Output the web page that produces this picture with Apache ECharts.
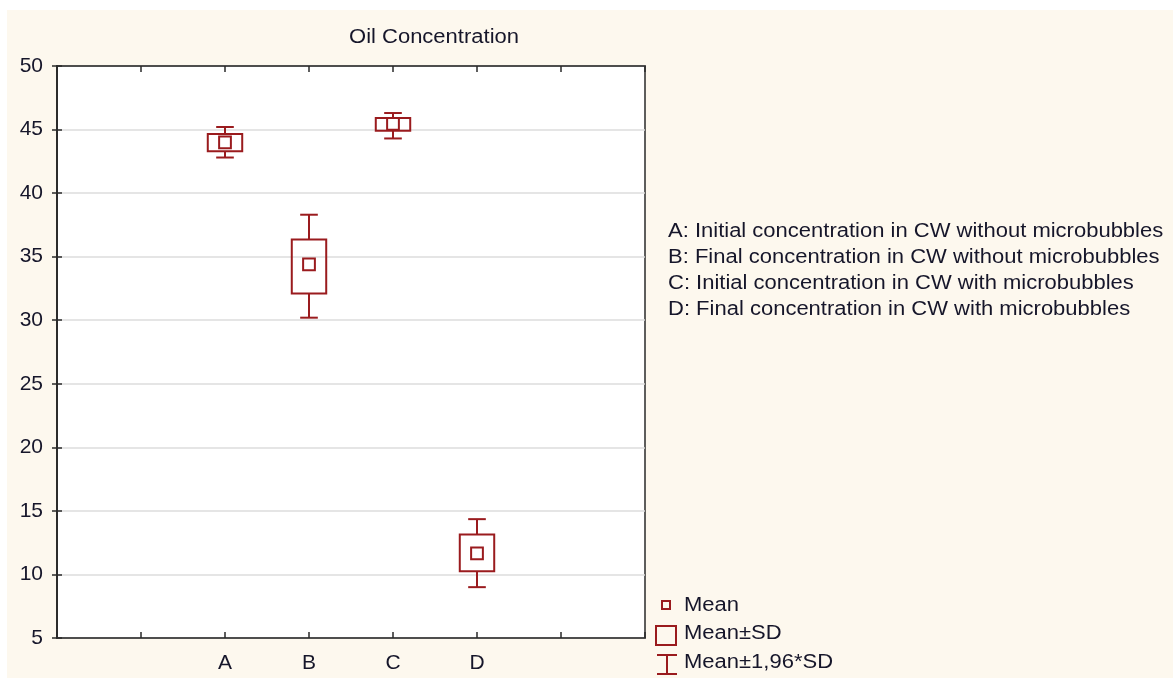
<!DOCTYPE html>
<html>
<head>
<meta charset="utf-8">
<script src="https://cdn.jsdelivr.net/npm/echarts@6/dist/echarts.min.js"></script>
<style>
html,body{margin:0;padding:0;background:#fff;}
#chart{width:1173px;height:682px;}
</style>
</head>
<body>
<div id="chart"></div>
<script>
// ---- data ----
const categories = ['A', 'B', 'C', 'D'];
const means      = [44.0, 34.4, 45.45, 11.65];
const sdLow      = [43.3, 32.1, 44.9, 10.25];
const sdHigh     = [44.65, 36.35, 45.9, 13.15];
const ciLow      = [42.8, 30.2, 44.3, 9.0];
const ciHigh     = [45.2, 38.3, 46.3, 14.35];
const yTicks     = [5, 10, 15, 20, 25, 30, 35, 40, 45, 50];
const descriptions = [
  'A: Initial concentration in CW without microbubbles',
  'B: Final concentration in CW without microbubbles',
  'C: Initial concentration in CW with microbubbles',
  'D: Final concentration in CW with microbubbles'
];
const legendItems = ['Mean', 'Mean\u00b1SD', 'Mean\u00b11,96*SD'];
const title = 'Oil Concentration';

const RED = '#9a1b1e';
const TXT = '#16162a';
const FONT = '"Liberation Sans", Arial, sans-serif';
const OFFSET = 2; // first category sits at x = 2 on a 0..7 axis
const SX = 1.1;   // horizontal stretch of the reference's text

const seriesData = categories.map((c, i) => [i + OFFSET, means[i], sdLow[i], sdHigh[i], ciLow[i], ciHigh[i]]);

function renderItem(params, api) {
  const x = api.value(0);
  const unit = api.size([1, 0])[0];
  const boxW = unit * 0.41, capW = unit * 0.21, mW = unit * 0.14;
  const pMean = api.coord([x, api.value(1)]);
  const pSL = api.coord([x, api.value(2)]);
  const pSH = api.coord([x, api.value(3)]);
  const pCL = api.coord([x, api.value(4)]);
  const pCH = api.coord([x, api.value(5)]);
  const cx = pMean[0];
  const st = { stroke: RED, lineWidth: 2, fill: null };
  return {
    type: 'group',
    children: [
      { type: 'line', shape: { x1: cx, y1: pCH[1], x2: cx, y2: pSH[1] }, style: st },
      { type: 'line', shape: { x1: cx, y1: pSL[1], x2: cx, y2: pCL[1] }, style: st },
      { type: 'line', shape: { x1: cx - capW / 2, y1: pCH[1], x2: cx + capW / 2, y2: pCH[1] }, style: st },
      { type: 'line', shape: { x1: cx - capW / 2, y1: pCL[1], x2: cx + capW / 2, y2: pCL[1] }, style: st },
      { type: 'rect', shape: { x: cx - boxW / 2, y: pSH[1], width: boxW, height: pSL[1] - pSH[1] }, style: { stroke: RED, lineWidth: 2, fill: 'rgba(0,0,0,0)' } },
      { type: 'rect', shape: { x: cx - mW / 2, y: pMean[1] - mW / 2, width: mW, height: mW }, style: { stroke: RED, lineWidth: 2, fill: '#fff' } }
    ]
  };
}

const chart = echarts.init(document.getElementById('chart'), null, { renderer: 'canvas' });

const graphics = [
  { type: 'rect', z: -10, shape: { x: 7, y: 10, width: 1166, height: 668 }, style: { fill: '#fdf8ee' }, silent: true },
  { type: 'text', x: 434, y: 37, scaleX: SX, style: { text: title, font: '20px ' + FONT, fill: TXT, textAlign: 'center', textVerticalAlign: 'middle' } }
];
descriptions.forEach((d, i) => {
  graphics.push({ type: 'text', x: 668, y: 231 + i * 26, scaleX: SX, style: { text: d, font: '20px ' + FONT, fill: TXT, textAlign: 'left', textVerticalAlign: 'middle' } });
});
// legend symbols
graphics.push({ type: 'rect', shape: { x: 662, y: 601, width: 8, height: 8 }, style: { stroke: RED, lineWidth: 2, fill: 'none' } });
graphics.push({ type: 'rect', shape: { x: 656, y: 626, width: 20, height: 19 }, style: { stroke: RED, lineWidth: 2, fill: 'none' } });
graphics.push({ type: 'line', shape: { x1: 667, y1: 655, x2: 667, y2: 674 }, style: { stroke: RED, lineWidth: 2 } });
graphics.push({ type: 'line', shape: { x1: 657, y1: 655, x2: 677, y2: 655 }, style: { stroke: RED, lineWidth: 2 } });
graphics.push({ type: 'line', shape: { x1: 657, y1: 674, x2: 677, y2: 674 }, style: { stroke: RED, lineWidth: 2 } });
legendItems.forEach((t, i) => {
  graphics.push({ type: 'text', x: 684, y: 605 + i * 28.5, scaleX: SX, style: { text: t, font: '20px ' + FONT, fill: TXT, textAlign: 'left', textVerticalAlign: 'middle' } });
});

const axisLineStyle = { color: '#2a2a2a', width: 1.5 };

chart.setOption({
  backgroundColor: '#fff',
  animation: false,
  graphic: graphics,
  grid: { left: 57, right: 528, top: 66, bottom: 44, show: true, backgroundColor: '#fff', borderColor: '#2a2a2a', borderWidth: 1.5, z: 0 },
  xAxis: [
    {
      type: 'value', min: 0, max: 7, interval: 1, position: 'bottom',
      axisLine: { show: true, lineStyle: axisLineStyle },
      axisTick: { show: true, inside: true, length: 6, lineStyle: axisLineStyle },
      splitLine: { show: false },
      axisLabel: {
        margin: 15, fontSize: 21, fontFamily: FONT, color: TXT,
        formatter: v => categories[v - OFFSET] || ''
      }
    },
    {
      type: 'value', min: 0, max: 7, interval: 1, position: 'top',
      axisLine: { show: true, lineStyle: axisLineStyle },
      axisTick: { show: true, inside: true, length: 6, lineStyle: axisLineStyle },
      splitLine: { show: false }, axisLabel: { show: false }
    }
  ],
  yAxis: [
    {
      type: 'value', min: yTicks[0], max: yTicks[yTicks.length - 1], interval: 5, position: 'left',
      axisLine: { show: true, lineStyle: axisLineStyle },
      axisTick: { show: true, inside: true, length: 5, lineStyle: axisLineStyle },
      splitLine: { show: true, lineStyle: { color: '#dcdcdc', width: 1.5 } },
      axisLabel: { margin: 14, fontSize: 21, fontFamily: FONT, color: TXT }
    },
    {
      type: 'value', min: yTicks[0], max: yTicks[yTicks.length - 1], interval: 5, position: 'right',
      axisLine: { show: true, lineStyle: axisLineStyle },
      axisTick: { show: true, inside: true, length: 5, lineStyle: axisLineStyle },
      splitLine: { show: false }, axisLabel: { show: false }
    }
  ],
  series: [{
    type: 'custom',
    xAxisIndex: 0, yAxisIndex: 0,
    renderItem: renderItem,
    data: seriesData,
    z: 5
  }]
});
</script>
</body>
</html>
